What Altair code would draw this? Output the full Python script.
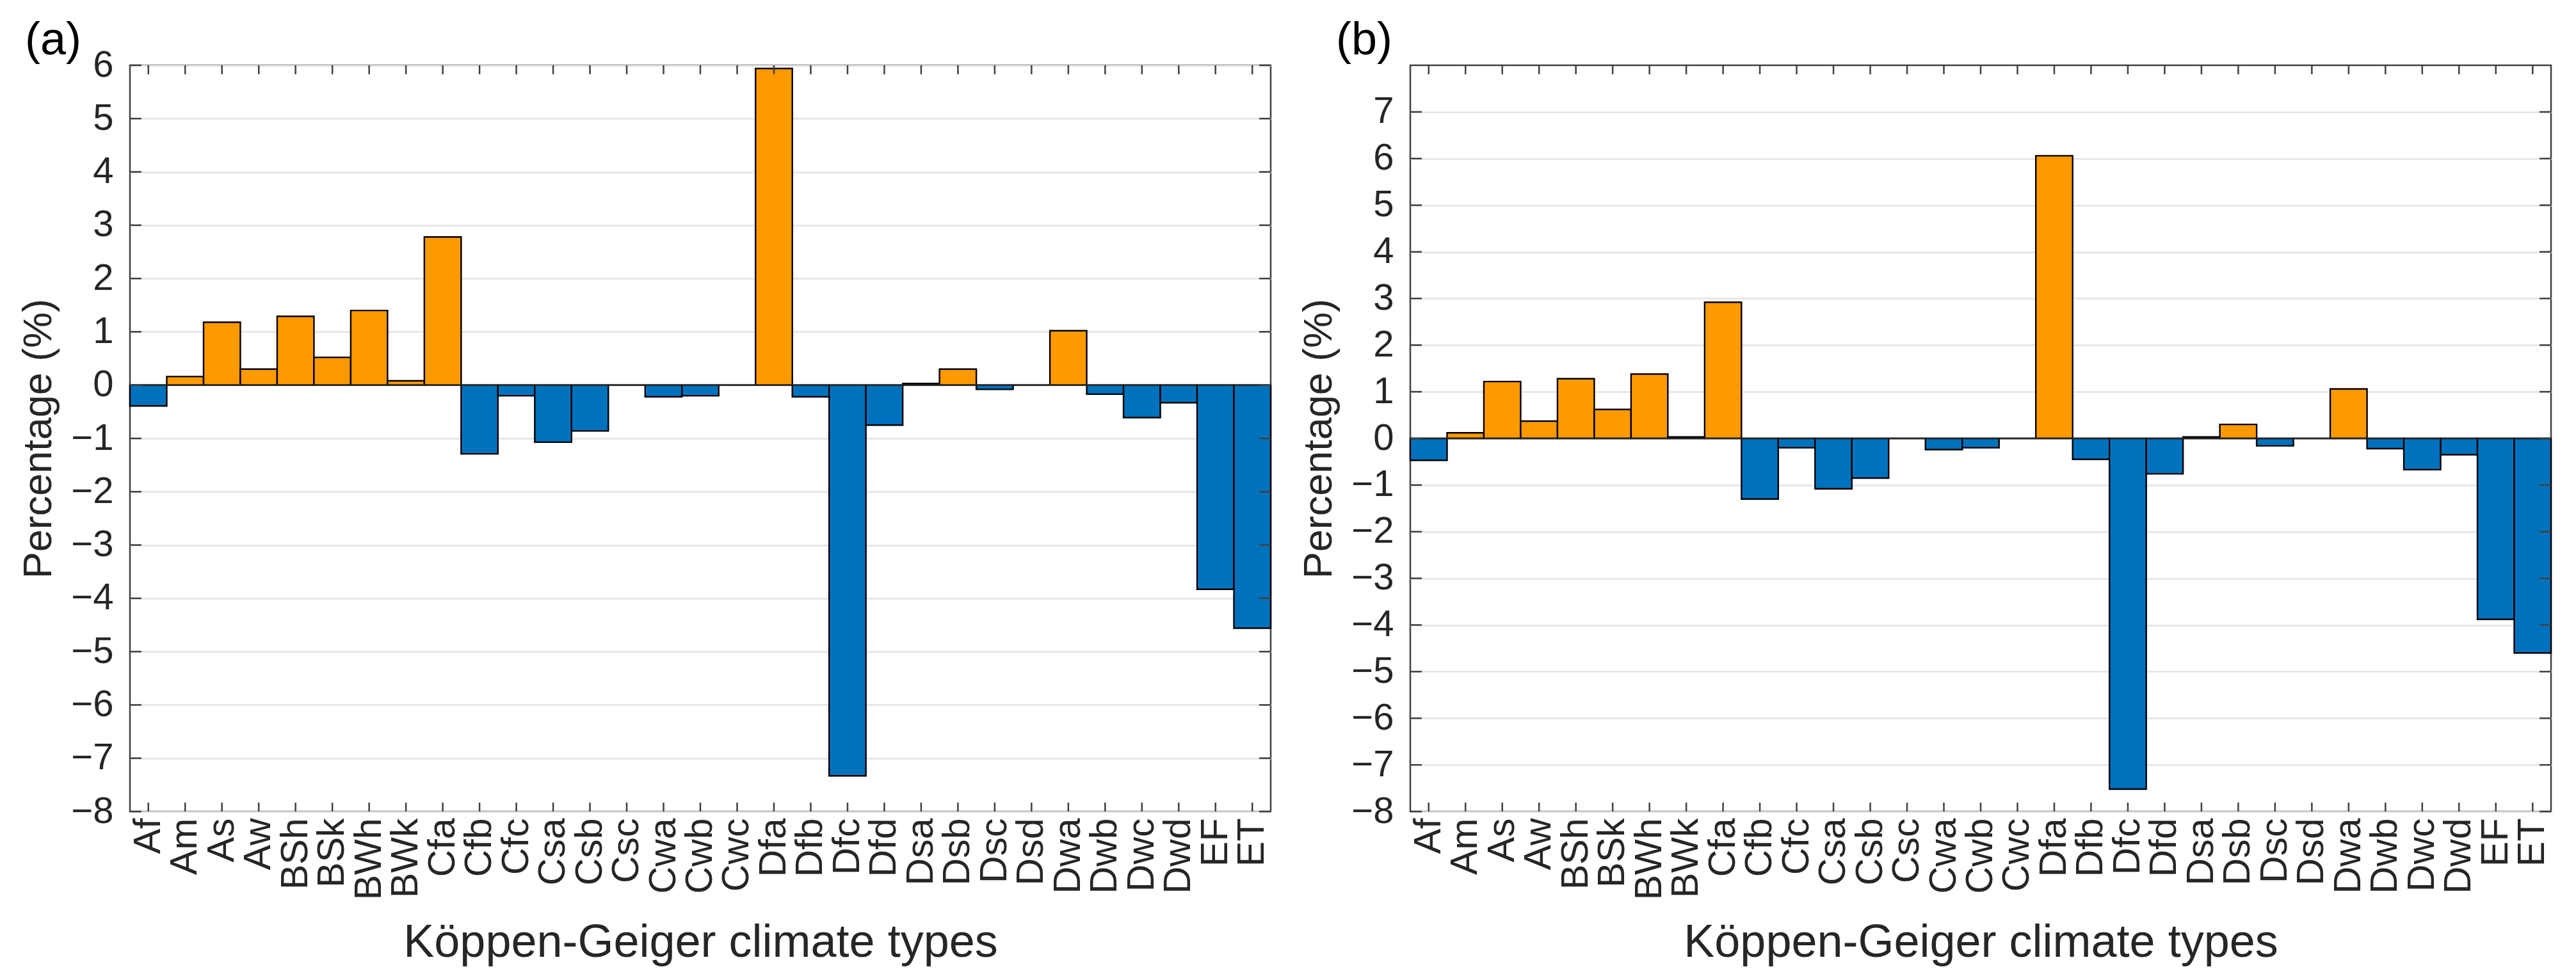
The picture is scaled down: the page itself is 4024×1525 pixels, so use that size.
import altair as alt
import pandas as pd

categories = ["Af", "Am", "As", "Aw", "BSh", "BSk", "BWh", "BWk", "Cfa", "Cfb", "Cfc",
              "Csa", "Csb", "Csc", "Cwa", "Cwb", "Cwc", "Dfa", "Dfb", "Dfc", "Dfd",
              "Dsa", "Dsb", "Dsc", "Dsd", "Dwa", "Dwb", "Dwc", "Dwd", "EF", "ET"]
values_a = [-0.39, 0.16, 1.18, 0.30, 1.29, 0.52, 1.40, 0.08, 2.78, -1.29, -0.20,
            -1.07, -0.86, 0.0, -0.22, -0.20, 0.0, 5.94, -0.22, -7.33, -0.75,
            0.03, 0.30, -0.08, 0.0, 1.02, -0.17, -0.61, -0.33, -3.83, -4.56]
values_b = [-0.47, 0.12, 1.22, 0.37, 1.28, 0.62, 1.38, 0.03, 2.92, -1.30, -0.20,
            -1.08, -0.85, 0.0, -0.24, -0.20, 0.0, 6.06, -0.45, -7.52, -0.76,
            0.03, 0.30, -0.16, 0.0, 1.06, -0.22, -0.67, -0.35, -3.88, -4.60]
yticks_a = [-8, -7, -6, -5, -4, -3, -2, -1, 0, 1, 2, 3, 4, 5, 6]
yticks_b = [-8, -7, -6, -5, -4, -3, -2, -1, 0, 1, 2, 3, 4, 5, 6, 7]
domain_a = [-8, 6]
domain_b = [-8, 8]
panel_labels = ["(a)", "(b)"]
x_title = "Köppen-Geiger climate types"
y_title = "Percentage (%)"

W, H = 1782, 1166
FONT = "Liberation Sans"
TXT = "#262626"
AX = "#404040"


def panel(vals, ticks, dom, label, label_dx):
    df = pd.DataFrame({"cat": categories, "val": vals})
    df["sign"] = ["pos" if v > 0 else "neg" for v in vals]
    tdf = pd.DataFrame({"val": ticks})
    zdf = pd.DataFrame({"val": [0]})
    cdf = pd.DataFrame({"cat": categories})
    ldf = pd.DataFrame({"lab": [label]})

    xscale = alt.Scale(domain=categories, paddingInner=0, paddingOuter=0)
    yscale = alt.Scale(domain=dom, nice=False, zero=False)
    xaxis = alt.Axis(title=x_title, labelAngle=270, ticks=False, domain=False,
                     labelPadding=10, titlePadding=32, labelFontSize=59,
                     titleFontSize=72, labelFont=FONT, titleFont=FONT,
                     labelColor=TXT, titleColor=TXT, titleFontWeight="normal",
                     labelOverlap=False, grid=False)
    yaxis = alt.Axis(title=y_title, values=ticks, ticks=False, domain=False,
                     grid=True, gridColor="#e3e3e3", gridWidth=2.5,
                     labelPadding=26, titlePadding=18, labelFontSize=58,
                     titleFontSize=63, labelFont=FONT, titleFont=FONT,
                     labelColor=TXT, titleColor=TXT, titleFontWeight="normal",
                     labelOverlap=False, format="d")
    X = alt.X("cat:N", sort=categories, scale=xscale, axis=xaxis)
    Y = alt.Y("val:Q", scale=yscale, axis=yaxis)

    bars = alt.Chart(df).mark_bar(stroke="black", strokeWidth=2.4, opacity=1).encode(
        x=X, y=Y,
        color=alt.Color("sign:N", scale=alt.Scale(domain=["pos", "neg"],
                                                  range=["#FF9900", "#0072BD"]),
                        legend=None),
    )

    zero = alt.Chart(zdf).mark_rule(color="#262626", strokeWidth=2.5).encode(
        y=Y, x=alt.value(0), x2=alt.value(W))

    ytl = alt.Chart(tdf).mark_rule(color=AX, strokeWidth=2.5).encode(
        y=Y, x=alt.value(0), x2=alt.value(18))
    ytr = alt.Chart(tdf).mark_rule(color=AX, strokeWidth=2.5).encode(
        y=Y, x=alt.value(W - 18), x2=alt.value(W))
    xtt = alt.Chart(cdf).mark_rule(color=AX, strokeWidth=2.5).encode(
        x=X, y=alt.value(0), y2=alt.value(14))
    xtb = alt.Chart(cdf).mark_rule(color=AX, strokeWidth=2.5).encode(
        x=X, y=alt.value(H - 14), y2=alt.value(H))

    lab = alt.Chart(ldf).mark_text(align="left", baseline="alphabetic", fontSize=72,
                                   font=FONT, color="black").encode(
        text="lab:N", x=alt.value(label_dx), y=alt.value(-17))

    return alt.layer(bars, zero, ytl, ytr, xtt, xtb, lab).properties(width=W, height=H)


pa = panel(values_a, yticks_a, domain_a, panel_labels[0], -164)
pb = panel(values_b, yticks_b, domain_b, panel_labels[1], -116)

chart = alt.hconcat(pa, pb, spacing=218, bounds="flush").configure_view(
    stroke=AX, strokeWidth=2.5
).properties(
    padding={"left": 20, "top": 17, "right": 10, "bottom": 10},
    background="white",
)

chart.save("out.html", embed_options={"renderer": "svg", "actions": False})
